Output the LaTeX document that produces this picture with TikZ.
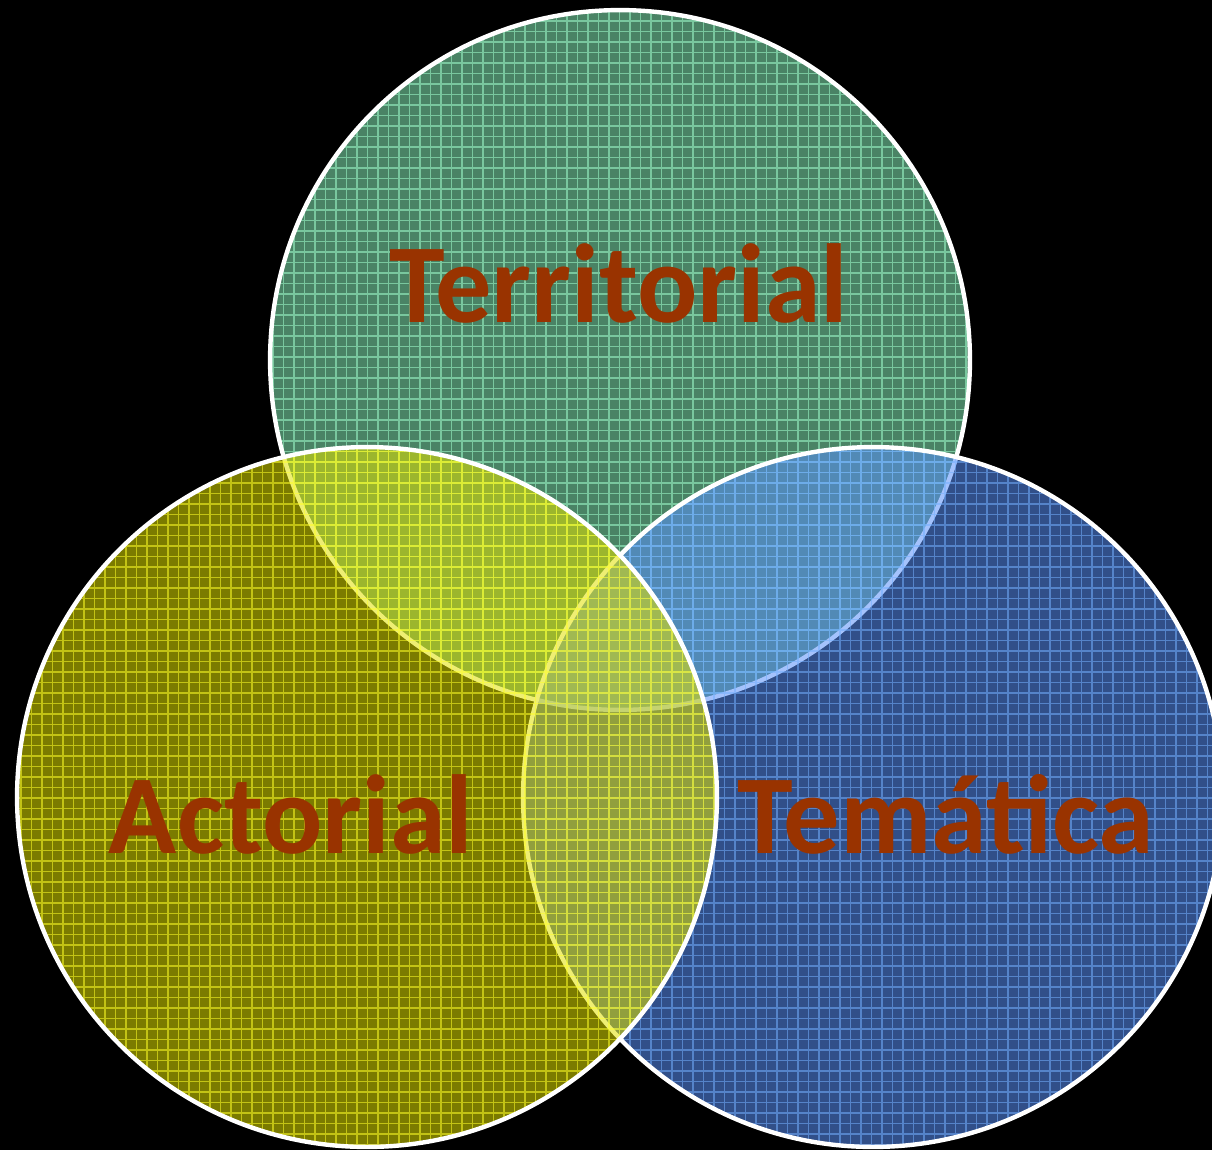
\documentclass[tikz,border=0pt]{standalone}
\usepackage{fontspec}
\setmainfont{Carlito}
\usetikzlibrary{
    positioning,
}
\definecolor{topfill}{RGB}{135,240,185}
\definecolor{toplines}{RGB}{160,255,205}
\definecolor{leftfill}{RGB}{225,225,0}
\definecolor{leftlines}{RGB}{255,255,40}
\definecolor{rightfill}{RGB}{90,145,250}
\definecolor{rightlines}{RGB}{115,175,255}
\definecolor{labelred}{RGB}{153,51,0}
\tikzstyle{disc} = [fill opacity=0.55]
\tikzstyle{gridlines} = [line width=0.8pt, draw opacity=0.55, step=0.21cm]
\tikzstyle{rim} = [draw=white, line width=2.5pt]
\tikzstyle{label} = [text=labelred, font=\bfseries\fontsize{64}{72}\selectfont,
    anchor=base, inner sep=0pt]

\begin{document}
\begin{tikzpicture}[x=0.02cm, y=-0.02cm]
        % Background
        \fill [black] (0,0) rectangle (1212,1150);
        \useasboundingbox (0,0) rectangle (1212,1150);
        % Place circles
        \coordinate (territorio) at (620,360);
        \coordinate (tema) at (873,797);
        \coordinate (actor) at (367,797);
        % top circle
        \fill [disc, topfill] (territorio) circle (7cm);
        \begin{scope}
            \clip (territorio) circle (7cm);
            \draw [gridlines, toplines] (260,0) grid (990,720);
        \end{scope}
        \draw [rim] (territorio) circle (7cm);
        % right circle
        \fill [disc, rightfill] (tema) circle (7cm);
        \begin{scope}
            \clip (tema) circle (7cm);
            \draw [gridlines, rightlines] (510,440) grid (1230,1160);
        \end{scope}
        \draw [rim] (tema) circle (7cm);
        % left circle
        \fill [disc, leftfill] (actor) circle (7cm);
        \begin{scope}
            \clip (actor) circle (7cm);
            \draw [gridlines, leftlines] (0,440) grid (730,1160);
        \end{scope}
        \draw [rim] (actor) circle (7cm);
        % Place labels
        \node [label] (territorial) at (619,322) {Territorial};
        \node [label] (actorial) at (291,853) {Actorial};
        \node [label] (tematica) at (946,853) {Temática};
    \end{tikzpicture}
\end{document}
